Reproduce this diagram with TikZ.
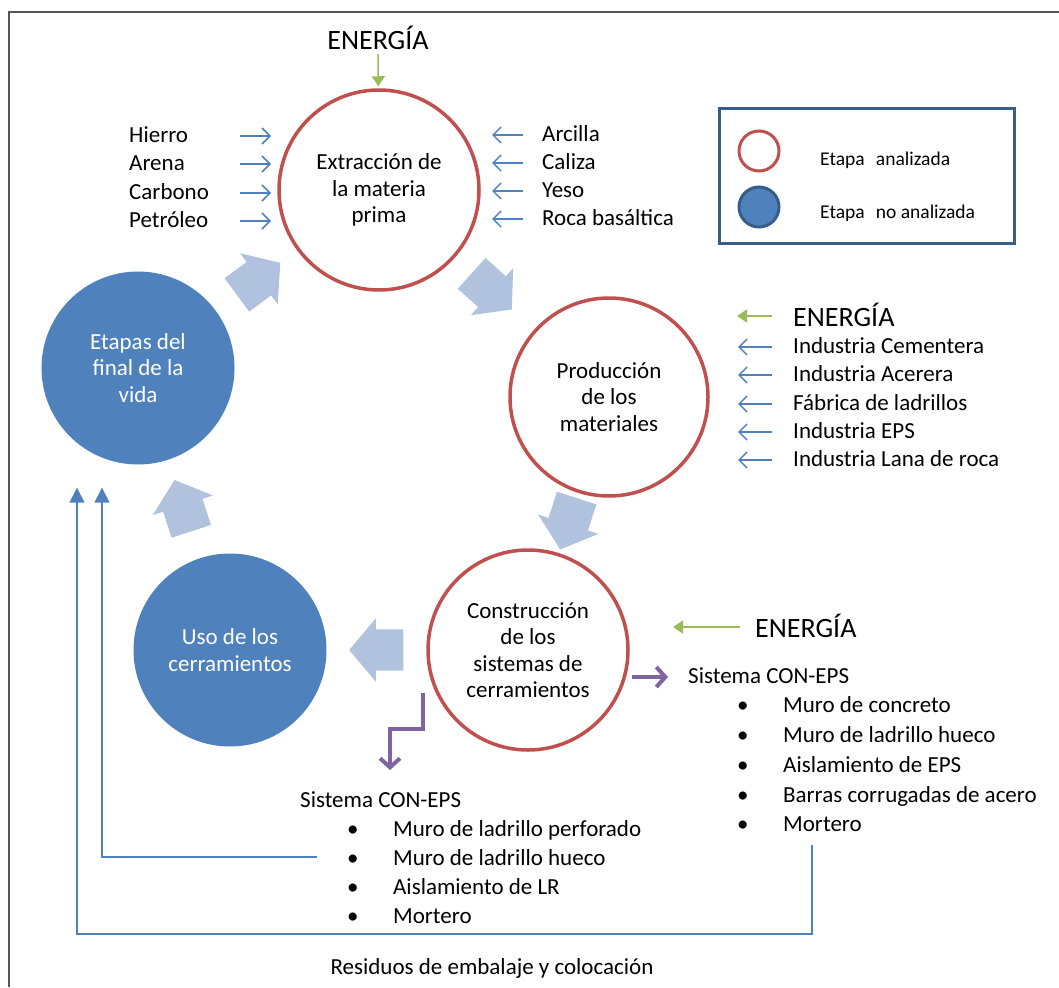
\documentclass[tikz,border=0pt]{standalone}
\usepackage{fontspec}
\setmainfont{Carlito}
\usepackage{tikz}
\usetikzlibrary{arrows.meta}
\usetikzlibrary{shapes.arrows}
\definecolor{rojo}{RGB}{192,80,77}
\definecolor{azul}{RGB}{79,129,189}
\definecolor{azuloscuro}{RGB}{56,93,138}
\definecolor{flecha}{RGB}{176,194,221}
\definecolor{verde}{RGB}{155,187,89}
\definecolor{morado}{RGB}{128,100,162}
\definecolor{marco}{RGB}{85,85,85}
\newcommand{\vineta}{\makebox[46pt][l]{\textbullet}}

\begin{document}
\begin{tikzpicture}[x=1pt,y=-1pt,font=\fontsize{23}{26.5}\selectfont,text=black]
	\tikzstyle{analizada}=[circle,draw=rojo,line width=3.5pt,minimum size=200pt,inner sep=0pt,align=center]
	\tikzstyle{noanalizada}=[circle,fill=azul,minimum size=193pt,inner sep=0pt,align=center,text=white]
	\tikzstyle{etiqueta}=[anchor=west,inner sep=0pt,text height=17pt,text depth=4pt]
	\tikzstyle{energia}=[font=\fontsize{28}{32}\selectfont,inner sep=0pt,text height=20pt,text depth=0pt]
	\tikzstyle{materia}=[azul,line width=1.5pt,-{Straight Barb[length=8pt,width=16pt]}]
	\tikzstyle{entrada}=[verde,line width=1.5pt,-{Triangle[length=10pt,width=13pt]}]
	\tikzstyle{ciclo}=[single arrow,fill=flecha,inner xsep=0pt,inner ysep=20.5pt,minimum height=54pt,minimum width=63pt,single arrow head extend=11pt,single arrow tip angle=100,sloped,allow upside down]
	\tikzstyle{sistema}=[morado,line width=4pt,-{Straight Barb[length=9pt,width=20pt]}]
	\tikzstyle{residuo}=[azul,line width=1.5pt,-{Triangle[length=15pt,width=15pt]}]
	\tikzstyle{leyenda}=[etiqueta,font=\fontsize{19.5}{22}\selectfont,text height=14pt,text depth=3pt]

	\useasboundingbox (0,0) rectangle (1059,987);
	\draw[marco,line width=2pt] (9,987) -- (9,12) -- (1059,12);

	% etapas del ciclo
	\node (extr)[analizada] at (379,190) {Extracción de\\la materia\\prima};
	\node (prod)[analizada,minimum size=198pt] at (609,397) {Producción\\de los\\materiales};
	\node (cons)[analizada] at (528,650) {Construcción\\de los\\sistemas de\\cerramientos};
	\node (uso)[noanalizada] at (230,650) {Uso de los\\cerramientos};
	\node (fin)[noanalizada] at (138,368) {Etapas del\\final de la\\vida};

	\path (fin) -- (extr) node (f1)[ciclo,pos=0.44] {};
	\path (extr) -- (prod) node (f2)[ciclo,pos=0.385] {};
	\path (prod) -- (cons) node (f3)[ciclo,pos=0.375] {};
	\path (cons) -- (uso) node (f4)[ciclo,pos=0.415] {};
	\path (uso) -- (fin) node (f5)[ciclo,pos=0.45] {};

	% extraccion
	\node (en1)[energia] at (378,40) {ENERGÍA};
	\draw[entrada,shorten <=4pt,shorten >=2pt] (en1) -- (extr);
	\node (hierro)[etiqueta] at (129,136) {Hierro};
	\node (arena)[etiqueta] at (129,164) {Arena};
	\node (carbono)[etiqueta] at (129,193) {Carbono};
	\node (petroleo)[etiqueta] at (129,221) {Petróleo};
	\node (arcilla)[etiqueta] at (542,135) {Arcilla};
	\node (caliza)[etiqueta] at (542,163) {Caliza};
	\node (yeso)[etiqueta] at (542,191) {Yeso};
	\node (roca)[etiqueta] at (542,219) {Roca basáltica};
	\draw[materia] ([xshift=111pt]hierro.west) -- ([xshift=142pt]hierro.west);
	\draw[materia] ([xshift=111pt]arena.west) -- ([xshift=142pt]arena.west);
	\draw[materia] ([xshift=111pt]carbono.west) -- ([xshift=142pt]carbono.west);
	\draw[materia] ([xshift=111pt]petroleo.west) -- ([xshift=142pt]petroleo.west);
	\draw[materia] ([xshift=-19pt]arcilla.west) -- ([xshift=-50pt]arcilla.west);
	\draw[materia] ([xshift=-19pt]caliza.west) -- ([xshift=-50pt]caliza.west);
	\draw[materia] ([xshift=-19pt]yeso.west) -- ([xshift=-50pt]yeso.west);
	\draw[materia] ([xshift=-19pt]roca.west) -- ([xshift=-50pt]roca.west);

	% produccion
	\node (en2)[energia,anchor=west] at (793,316) {ENERGÍA};
	\node (cementera)[etiqueta] at (793,347) {Industria Cementera};
	\node (acerera)[etiqueta] at (793,375) {Industria Acerera};
	\node (ladrillos)[etiqueta] at (793,404) {Fábrica de ladrillos};
	\node (eps)[etiqueta] at (793,432) {Industria EPS};
	\node (lana)[etiqueta] at (793,460) {Industria Lana de roca};
	\draw[entrada] ([xshift=-21pt]en2.west) -- ([xshift=-56pt]en2.west);
	\draw[materia] ([xshift=-21pt]cementera.west) -- ([xshift=-55pt]cementera.west);
	\draw[materia] ([xshift=-21pt]acerera.west) -- ([xshift=-55pt]acerera.west);
	\draw[materia] ([xshift=-21pt]ladrillos.west) -- ([xshift=-55pt]ladrillos.west);
	\draw[materia] ([xshift=-21pt]eps.west) -- ([xshift=-55pt]eps.west);
	\draw[materia] ([xshift=-21pt]lana.west) -- ([xshift=-55pt]lana.west);

	% construccion
	\node (en3)[energia,anchor=west] at (755,627) {ENERGÍA};
	\draw[entrada] ([xshift=-15pt]en3.west) -- ([xshift=-82pt]en3.west);
	\node (sis1)[etiqueta] at (688,677) {Sistema CON-EPS};
	\node (concreto)[etiqueta] at (737,706) {\vineta Muro de concreto};
	\node (hueco1)[etiqueta] at (737,736) {\vineta Muro de ladrillo hueco};
	\node (aisl1)[etiqueta] at (737,766) {\vineta Aislamiento de EPS};
	\node (barras)[etiqueta] at (737,796) {\vineta Barras corrugadas de acero};
	\node (mortero1)[etiqueta] at (737,825) {\vineta Mortero};
	\draw[sistema] ([xshift=-56pt]sis1.west) -- ([xshift=-20pt]sis1.west);

	\node (sis2)[etiqueta] at (300,801) {Sistema CON-EPS};
	\node (perforado)[etiqueta] at (347,830) {\vineta Muro de ladrillo perforado};
	\node (hueco2)[etiqueta] at (347,859) {\vineta Muro de ladrillo hueco};
	\node (aisl2)[etiqueta] at (347,888) {\vineta Aislamiento de LR};
	\node (mortero2)[etiqueta] at (347,917) {\vineta Mortero};
	\coordinate (codo) at (423,693);
	\draw[sistema] (codo) |- ++(-33,36) -- ++(0,41);

	% residuos
	\coordinate (r1) at (317,857);
	\coordinate (r2) at (812,845);
	\coordinate (r3) at (77,934);
	\draw[residuo] (r1) -| ([xshift=-36pt,yshift=-23pt]fin.south);
	\draw[residuo] (r2) |- (r3) -- ([xshift=-61pt,yshift=-23pt]fin.south);
	\node (residuos) at (492,968) {Residuos de embalaje y colocación};

	% leyenda
	\node (caja)[draw=azuloscuro,line width=3pt,minimum width=295pt,minimum height=134pt] at (866.5,176) {};
	\node (ley1)[circle,draw=rojo,line width=3pt,minimum size=40pt] at (759,151) {};
	\node (ley2)[circle,fill=azul,draw=azuloscuro,line width=3pt,minimum size=40pt] at (759,207) {};
	\node (txt1)[leyenda] at (820,160) {Etapa\hspace{0.35em} analizada};
	\node (txt2)[leyenda] at (820,213) {Etapa\hspace{0.35em} no analizada};
\end{tikzpicture}
\end{document}
